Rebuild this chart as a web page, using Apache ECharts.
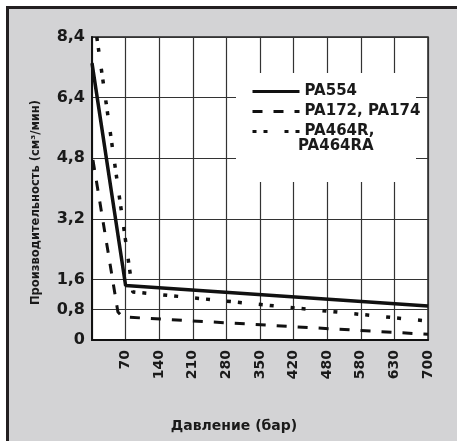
<!DOCTYPE html>
<html>
<head>
<meta charset="utf-8">
<script src="https://cdn.jsdelivr.net/npm/echarts@6/dist/echarts.min.js"></script>
<style>
html,body{margin:0;padding:0;background:#fff;}
#c{width:457px;height:441px;}
</style>
</head>
<body>
<div id="c"></div>
<script>
// ---- data ----
const seriesNames = ['PA554', 'PA172, PA174', 'PA464R, PA464RA'];
const pa554 = [[0, 7.31], [70, 1.44], [700, 0.90]];
const pa172 = [[2, 4.75], [54, 0.74], [64, 0.61], [700, 0.15]];
const pa464 = [[10, 8.0], [85, 1.27], [700, 0.50]];
const xTickLabels = ['70', '140', '210', '280', '350', '420', '480', '580', '630', '700'];
const yTickValues = [0, 0.8, 1.6, 3.2, 4.8, 6.4, 8.0];
const yTickLabels = ['0', '0,8', '1,6', '3,2', '4,8', '6,4', '8,4'];
const xTitle = 'Давление (бар)';
const yTitle = 'Производительность (см³/мин)';

const FONT = 'DejaVu Sans';
const INK = '#1a1a1a';

const chart = echarts.init(document.getElementById('c'), null, {renderer: 'canvas'});
chart.setOption({
  backgroundColor: '#ffffff',
  animation: false,
  textStyle: {fontFamily: FONT},
  graphic: [
    {type: 'rect', z: -10, shape: {x: 7.5, y: 7.5, width: 470, height: 460},
     style: {fill: '#d3d3d5', stroke: '#231f20', lineWidth: 3}},
    {type: 'rect', z: 3, shape: {x: 236, y: 73, width: 180, height: 109},
     style: {fill: '#ffffff'}},
    {type: 'text', z: 11, left: 298, top: 139,
     style: {text: 'PA464RA', font: 'bold 15px "DejaVu Sans"', fill: INK}}
  ],
  grid: {left: 92, top: 37, right: 29, bottom: 101, show: true,
    backgroundColor: '#ffffff', borderColor: '#222', borderWidth: 1.5},
  legend: {
    orient: 'vertical', left: 246, top: 79, z: 10,
    itemWidth: 47, itemHeight: 14, itemGap: 5,
    itemStyle: {opacity: 0},
    lineStyle: {width: 3},
    textStyle: {fontFamily: FONT, fontSize: 15, fontWeight: 'bold', color: INK},
    formatter: function (n) { return n === seriesNames[2] ? 'PA464R,' : n; },
    data: seriesNames
  },
  xAxis: {
    type: 'value', min: 0, max: 700, interval: 70,
    name: xTitle, nameLocation: 'middle', nameGap: 79,
    nameTextStyle: {fontFamily: FONT, fontSize: 14, fontWeight: 'bold', color: INK, padding: [0, 52, 0, 0]},
    axisLine: {show: true, lineStyle: {color: '#111', width: 2}},
    axisTick: {show: false},
    splitLine: {show: true, lineStyle: {color: '#333', width: 1.2}},
    axisLabel: {
      rotate: 90, margin: 10, fontFamily: FONT, fontSize: 14, fontWeight: 'bold', color: INK,
      formatter: function (v) { const i = Math.round(v / 70); return i === 0 ? '' : xTickLabels[i - 1]; }
    }
  },
  yAxis: {
    type: 'value', min: 0, max: 8,
    name: yTitle, nameLocation: 'middle', nameGap: 50,
    nameTextStyle: {fontFamily: FONT, fontSize: 11.5, fontWeight: 'bold', color: INK, padding: [0, 28, 0, 0]},
    axisLine: {show: true, lineStyle: {color: '#111', width: 2}},
    axisTick: {show: false, customValues: yTickValues},
    splitLine: {show: true, lineStyle: {color: '#333', width: 1.2}},
    axisLabel: {
      customValues: yTickValues, margin: 7, fontFamily: FONT, fontSize: 16, fontWeight: 'bold', color: INK,
      formatter: function (v) { const i = yTickValues.indexOf(v); return i < 0 ? '' : yTickLabels[i]; }
    }
  },
  series: [
    {name: seriesNames[0], type: 'line', data: pa554, symbol: 'none', z: 5,
     lineStyle: {color: '#111', width: 3.5, type: 'solid'}, itemStyle: {color: '#111'}},
    {name: seriesNames[1], type: 'line', data: pa172, symbol: 'none', z: 5,
     lineStyle: {color: '#111', width: 3, type: [10, 11]}, itemStyle: {color: '#111'}},
    {name: seriesNames[2], type: 'line', data: pa464, symbol: 'none', z: 5,
     lineStyle: {color: '#111', width: 3.5, type: [4, 7, 4, 17]}, itemStyle: {color: '#111'}}
  ]
});
</script>
</body>
</html>
